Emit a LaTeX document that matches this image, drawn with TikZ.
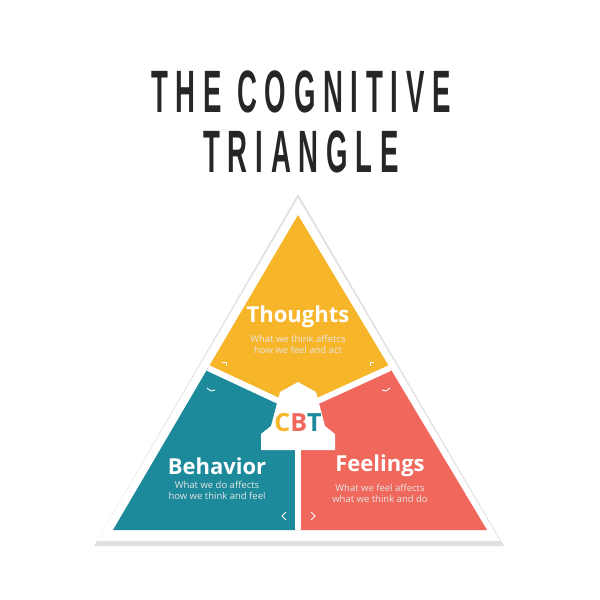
\documentclass[tikz,border=0pt]{standalone}
\usepackage{fontspec}
\setmainfont{Open Sans}
\newfontfamily\titlefont[LetterSpace=28]{Liberation Sans}
\usetikzlibrary{positioning}
\definecolor{thoughtcol}{HTML}{F7B52A}
\definecolor{behavcol}{HTML}{1C8A9A}
\definecolor{feelcol}{HTML}{F0675C}
\definecolor{inkcol}{HTML}{262626}
\tikzset{
  heading/.style={text=white, font=\bfseries\fontsize{22}{24}\selectfont},
  subline/.style={text=white!90!black, font=\fontsize{9.5}{11}\selectfont, align=center},
  titleline/.style={text=inkcol, font=\titlefont\bfseries\fontsize{46}{50}\selectfont},
  tick/.style={white, line width=0.9pt},
  divider/.style={white, line width=6pt}
}
\begin{document}
\begin{tikzpicture}[x=1pt, y=-1pt]
    \useasboundingbox (0,0) rectangle (600,600);
    \fill[white] (0,0) rectangle (600,600);

    % Title
    \node[titleline] (title1) at (301,92) {\scalebox{0.6}[1.3]{THE COGNITIVE}};
    \node[titleline] (title2) at (301,152) {\scalebox{0.6}[1.3]{TRIANGLE}};

    % sticker border and shadow
    \fill[black!12] (298,194) -- (504,546) -- (94,546) -- cycle;
    \fill[white] (298,198) -- (500,541) -- (97,541) -- cycle;

    % the three parts
    \coordinate (apex) at (298,215);
    \coordinate (bl) at (113,530);
    \coordinate (br) at (487,530);
    \coordinate (mid) at (298,410);
    \coordinate (lw) at (208,368);
    \coordinate (rw) at (390,368);
    \coordinate (bm) at (298,530);
    \fill[thoughtcol] (apex) -- (rw) -- (mid) -- (lw) -- cycle;
    \fill[behavcol] (lw) -- (mid) -- (bm) -- (bl) -- cycle;
    \fill[feelcol] (rw) -- (br) -- (bm) -- (mid) -- cycle;
    \draw[divider] (lw) -- (mid) -- (rw);
    \draw[divider] (mid) -- (bm);

    % house in the middle
    \fill[white] (261,450) -- (261,434) -- (271,426) -- (280,392) -- (298,382)
        -- (316,392) -- (325,426) -- (335,434) -- (335,450) -- cycle;
    \node[font=\bfseries\fontsize{25}{28}\selectfont, inner sep=0pt] (cbt) at (298,423)
        {\textcolor{thoughtcol}{C}\textcolor{feelcol}{B}\textcolor{behavcol}{T}};

    % labels
    \node[heading] (thoughts) at (298,317) {Thoughts};
    \node[subline, below=0pt of thoughts] (thoughtstxt) {What we think affetcs\\how we feel and act};
    \node[heading] (behavior) at (217,466) {Behavior};
    \node[subline, below=0pt of behavior] (behaviortxt) {What we do affects\\how we think and feel};
    \node[heading] (feelings) at (380,466) {Feelings};
    \node[subline, below=0pt of feelings] (feelingstxt) {What we feel affects\\what we think and do};

    % small ticks
    \draw[tick] (222,362) -- (226,362) -- (226,366);
    \draw[tick] (370,366) -- (370,362) -- (374,362);
    \draw[tick] (207,388) -- (211,391) -- (215,390);
    \draw[tick] (382,390) -- (386,391) -- (390,388);
    \draw[tick] (286,512) -- (282,516) -- (286,520);
    \draw[tick] (311,512) -- (315,516) -- (311,520);
\end{tikzpicture}
\end{document}
